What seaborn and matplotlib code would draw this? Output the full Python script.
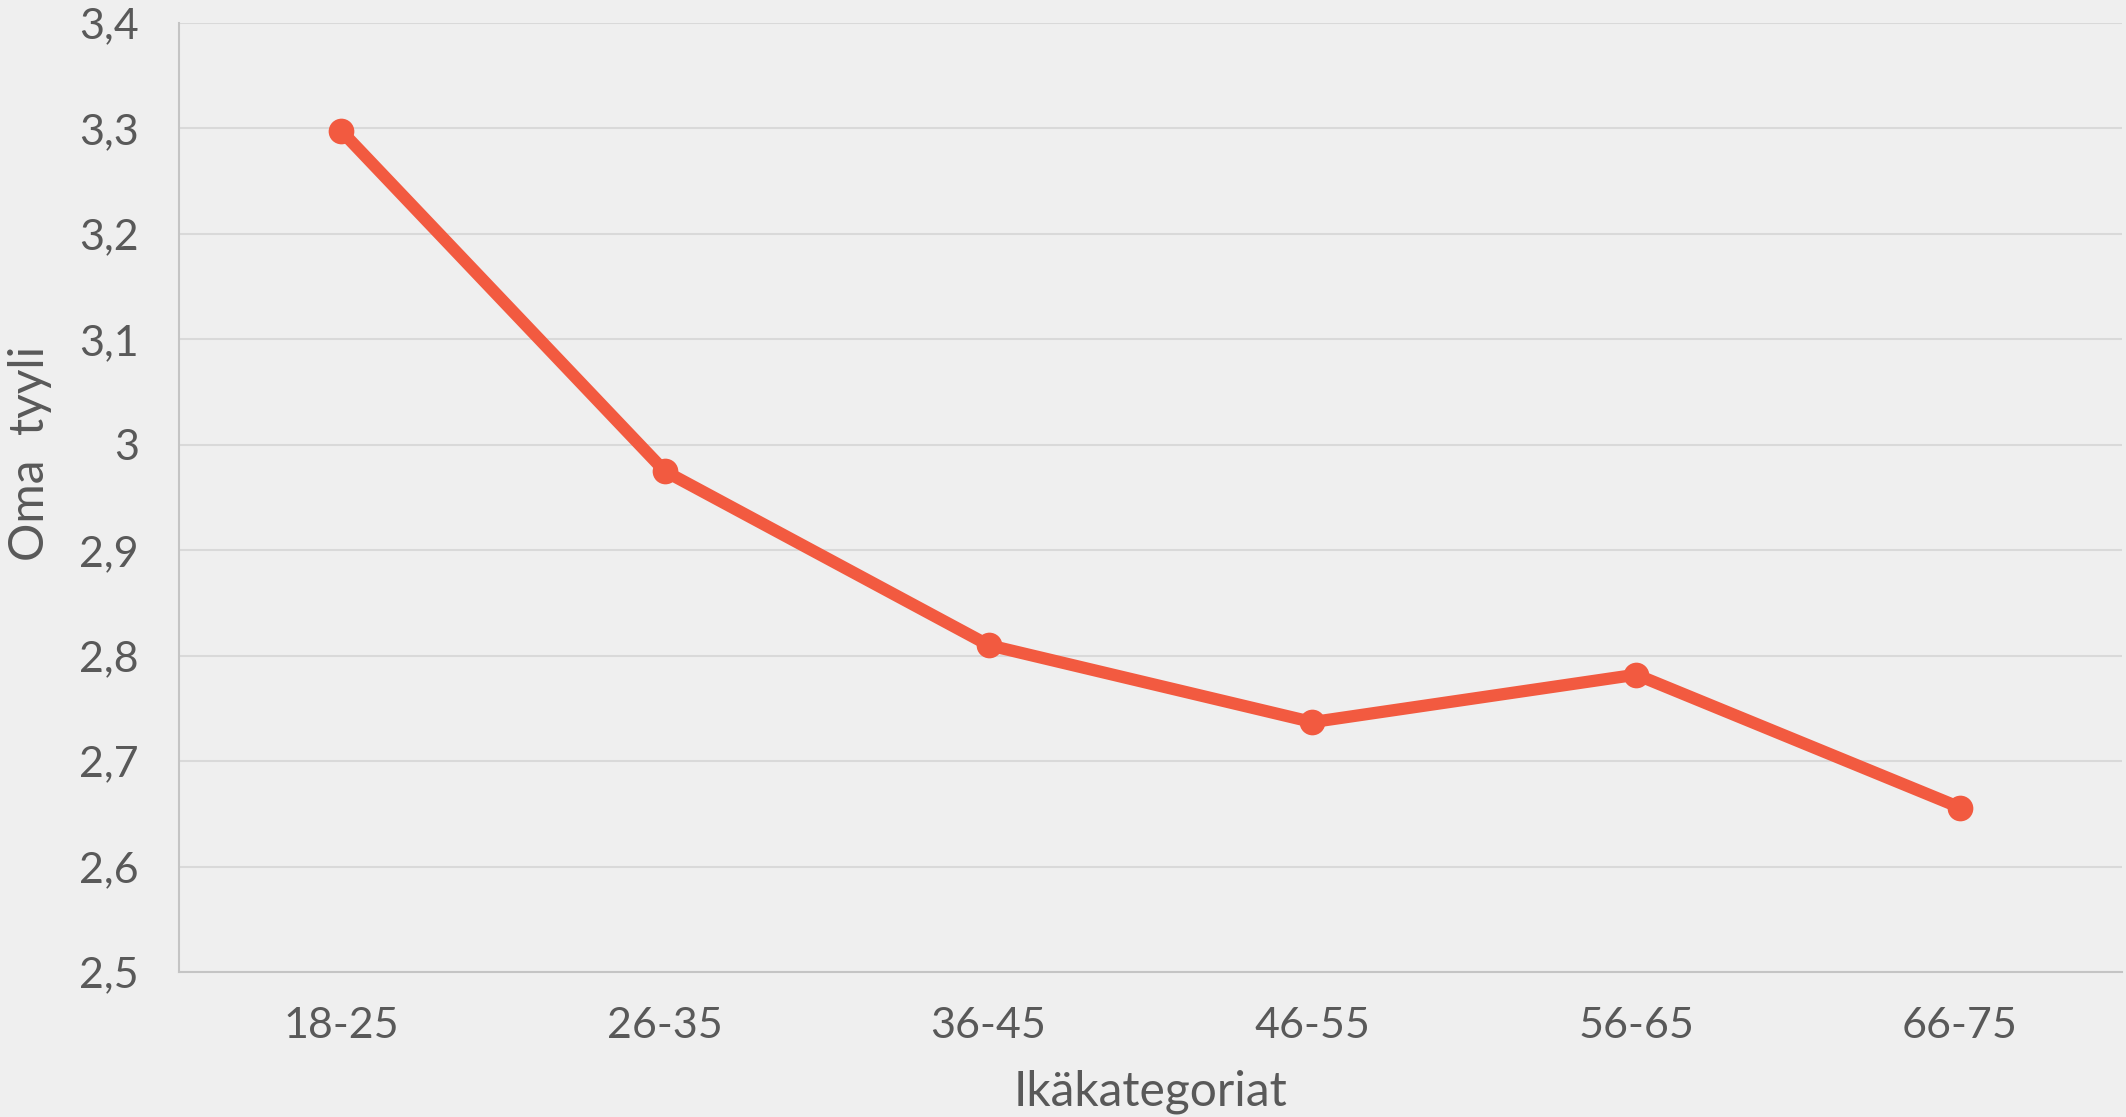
import pandas as pd
import numpy as np
import seaborn as sns
import matplotlib.pyplot as plt

# values
age_groups = ["18-25", "26-35", "36-45", "46-55", "56-65", "66-75"]
oma_tyyli = [3.298, 2.975, 2.810, 2.737, 2.782, 2.656]
y_ticks = [2.5, 2.6, 2.7, 2.8, 2.9, 3.0, 3.1, 3.2, 3.3, 3.4]
y_tick_labels = ["2,5", "2,6", "2,7", "2,8", "2,9", "3", "3,1", "3,2", "3,3", "3,4"]

df = pd.DataFrame({"Ikäkategoriat": age_groups, "Oma tyyli": oma_tyyli})

sns.set_style("white")
plt.rcParams['font.family'] = ['Lato', 'DejaVu Sans']

bg = "#efefef"
text_col = "#595959"
line_col = "#f25a40"

fig = plt.figure(figsize=(21.26, 11.17), dpi=100, facecolor=bg)
ax = fig.add_axes([0.0842, 0.1298, 0.9139, 0.8496])
ax.set_facecolor(bg)

sns.lineplot(data=df, x="Ikäkategoriat", y="Oma tyyli", sort=False, ax=ax,
             color=line_col, linewidth=8.8, marker="o", markersize=18.5,
             markeredgewidth=0, zorder=3)

ax.set_xlim(-0.5, len(age_groups) - 0.5)
ax.set_ylim(2.5, 3.4)
ax.set_yticks(y_ticks)
ax.set_yticklabels(y_tick_labels)
ax.yaxis.grid(True, color="#d9d9d9", linewidth=1.5)
ax.set_axisbelow(True)

for s in ["top", "right"]:
    ax.spines[s].set_visible(False)
ax.spines["left"].set_color("#c4c4c4")
ax.spines["bottom"].set_color("#c4c4c4")
ax.spines["left"].set_linewidth(1.5)
ax.spines["bottom"].set_linewidth(1.5)

ax.tick_params(axis="both", length=0, labelsize=31, labelcolor=text_col)
ax.tick_params(axis="y", pad=29)
ax.tick_params(axis="x", pad=25)

ax.set_xlabel("Ikäkategoriat", fontsize=34.5, color=text_col)
ax.set_ylabel("Oma  tyyli", fontsize=34.5, color=text_col)
ax.xaxis.set_label_coords(0.5, -0.126)
ax.yaxis.set_label_coords(-0.0765, 0.546)
ax.xaxis.label.set_va("center")
ax.yaxis.label.set_va("center")

fig.savefig("out.png", dpi=100, facecolor=bg)
